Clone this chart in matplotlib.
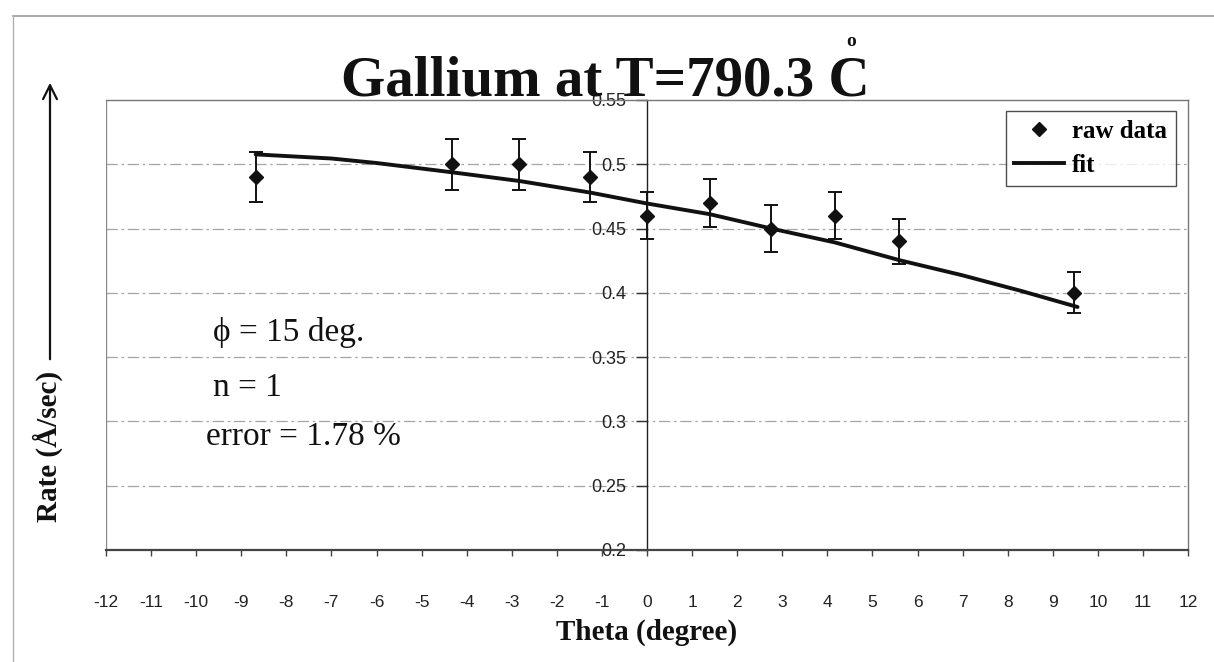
import matplotlib
matplotlib.use("Agg")
import matplotlib.pyplot as plt
from matplotlib.lines import Line2D
from matplotlib.patches import FancyArrowPatch

# ---- data ----
raw_x = [-8.68, -4.33, -2.83, -1.26, 0.0, 1.39, 2.76, 4.17, 5.6, 9.47]
raw_y = [0.49, 0.50, 0.50, 0.49, 0.46, 0.47, 0.45, 0.46, 0.44, 0.40]
raw_err = [0.0196, 0.020, 0.020, 0.0196, 0.0184, 0.0188, 0.018, 0.0184, 0.0176, 0.016]

fit_x = [-8.68, -7.0, -6.0, -4.33, -2.83, -1.26, 0.0, 1.39, 2.76, 4.17, 5.6, 6.98, 8.3, 9.55]
fit_y = [0.5077, 0.5045, 0.501, 0.4938, 0.487, 0.478, 0.4695, 0.4612, 0.45, 0.4392, 0.4254, 0.4138, 0.4015, 0.389]

x_ticks = list(range(-12, 13))
y_ticks = [0.2, 0.25, 0.3, 0.35, 0.4, 0.45, 0.5, 0.55]
y_tick_labels = ["0.2", "0.25", "0.3", "0.35", "0.4", "0.45", "0.5", "0.55"]

title_text = "Gallium at T=790.3 C"
x_label = "Theta (degree)"
y_label = "Rate (Å/sec)"
legend_labels = ["raw data", "fit"]
notes = ["ϕ = 15 deg.", "n = 1", "error = 1.78 %"]

W, H = 1214, 662
fig = plt.figure(figsize=(W / 100, H / 100), dpi=100)
fig.patch.set_facecolor("white")

def fx(px):
    return px / W

def fy(py):
    return 1 - py / H

L, R, T, B = 106, 1188, 100, 550
ax = fig.add_axes([fx(L), fy(B), (R - L) / W, (B - T) / H])
ax.set_xlim(-12, 12)
ax.set_ylim(0.2, 0.55)

serif = ["Liberation Serif", "DejaVu Serif"]
sans = ["Liberation Sans", "DejaVu Sans"]
ink = "#111111"

# gridlines
for yv in y_ticks[1:-1]:
    ax.axhline(yv, color="#a5a5a5", lw=0.9, ls=(0, (9, 3, 2, 3)), zorder=0)
ax.axvline(-12, color="#8a8a8a", lw=1.0, zorder=0)

# spines
ax.spines["left"].set_position(("data", 0))
ax.spines["left"].set_color("#222222")
ax.spines["left"].set_linewidth(1.0)
ax.spines["bottom"].set_color("#444444")
ax.spines["bottom"].set_linewidth(1.6)
ax.spines["top"].set_color("#777777")
ax.spines["top"].set_linewidth(1.0)
ax.spines["right"].set_color("#777777")
ax.spines["right"].set_linewidth(1.0)

ax.set_yticks(y_ticks)
ax.set_yticklabels(y_tick_labels, fontfamily=sans, fontsize=13, color="#222222")
ax.tick_params(axis="y", direction="out", length=8, width=1, pad=7, color="#333333")

ax.set_xticks(x_ticks)
ax.set_xticklabels([str(v) for v in x_ticks], fontfamily=sans, fontsize=12.5, color="#222222")
ax.tick_params(axis="x", direction="out", length=4.5, width=1, pad=28, color="#444444")

# fit line
ax.plot(fit_x, fit_y, color=ink, lw=2.8, solid_capstyle="round", zorder=3)

# raw data with error bars
ax.errorbar(raw_x, raw_y, yerr=raw_err, fmt="D", color=ink, ms=7,
            ecolor=ink, elinewidth=1.4, capsize=5, capthick=1.4, zorder=4)

# legend (proxy handles: marker only / line only)
h_raw = Line2D([], [], marker="D", ls="none", color=ink, ms=7)
h_fit = Line2D([], [], color=ink, lw=2.8)
leg = ax.legend([h_raw, h_fit], legend_labels, loc="upper right",
                bbox_to_anchor=(0.9885, 0.976), frameon=True, fancybox=False,
                edgecolor="#222222", handlelength=2.0, handletextpad=0.3,
                borderpad=0.35, labelspacing=0.45, borderaxespad=0,
                prop={"family": serif, "weight": "bold", "size": 18})
leg.get_frame().set_linewidth(1.0)

# annotations
fig.text(fx(213), fy(332), notes[0], fontfamily=serif,
         fontsize=24, va="center", ha="left", color=ink)
fig.text(fx(213), fy(388), notes[1], fontfamily=serif,
         fontsize=24, va="center", ha="left", color=ink)
fig.text(fx(206), fy(437), notes[2], fontfamily=serif,
         fontsize=24, va="center", ha="left", color=ink)

# title
fig.text(fx(605), fy(96), title_text, fontfamily=serif, fontweight="bold",
         fontsize=41, ha="center", va="baseline", color=ink)
fig.text(fx(851), fy(42), "o", fontfamily=serif, fontweight="bold",
         fontsize=14, ha="center", va="center", color=ink)

# axis labels
fig.text(fx(647), fy(632), x_label, fontfamily=serif, fontweight="bold",
         fontsize=21, ha="center", va="center", color=ink)
fig.text(fx(48), fy(446), y_label, fontfamily=serif, fontweight="bold",
         fontsize=21, ha="center", va="center", rotation=90, color=ink)
fig.add_artist(FancyArrowPatch(
    (fx(50), fy(362)), (fx(50), fy(80)), transform=fig.transFigure,
    arrowstyle="->,head_length=10,head_width=5", lw=1.6, color=ink,
    mutation_scale=1))

# faint outer chart border (scan)
fig.add_artist(Line2D([fx(13), 1], [fy(16), fy(16)], transform=fig.transFigure,
                      color="#9a9a9a", lw=1.2))
fig.add_artist(Line2D([fx(13), fx(13)], [fy(16), 0], transform=fig.transFigure,
                      color="#b0b0b0", lw=1.0))

fig.savefig("out.png", dpi=100)
